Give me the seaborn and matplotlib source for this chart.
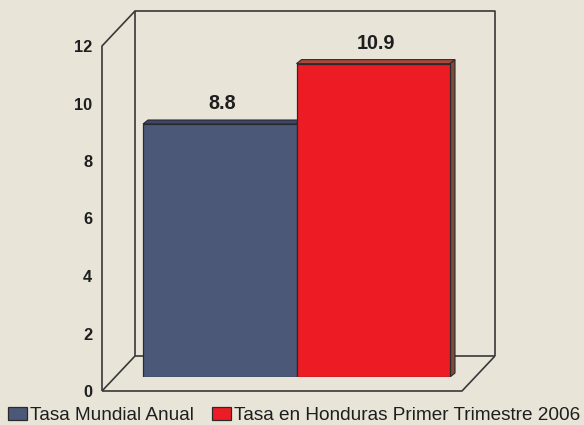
import matplotlib
matplotlib.use("Agg")
import matplotlib.pyplot as plt
from matplotlib.patches import Polygon, Rectangle
import seaborn as sns

# ---- data ----
categories = ["Tasa Mundial Anual", "Tasa en Honduras Primer Trimestre 2006"]
values = [8.8, 10.9]
value_labels = ["8.8", "10.9"]
yticks = [0, 2, 4, 6, 8, 10, 12]

# ---- style ----
BG = "#e8e5d8"
FRONT = ["#4c5878", "#ed1c24"]
TOP = ["#3d4666", "#a9483a"]
SIDE = ["#333b58", "#7e4a3c"]
EDGE = "#2a2a2a"

sns.set_style("white")
plt.rcParams["font.family"] = ["Liberation Sans", "DejaVu Sans"]

W, H = 584, 425
fig = plt.figure(figsize=(W / 100, H / 100), dpi=100, facecolor=BG)


def fbox(x0, ytop, x1, ybot):
    return [x0 / W, (H - ybot) / H, (x1 - x0) / W, (ybot - ytop) / H]


# layout (pixels): front plane of the box, depth of the box, plane of the bars
FX0, FX1, FYT, FYB = 102, 462, 46, 391
DX, DY = 33, 35
BX, BY = 13, 14          # bar plane offset from the front plane
BAR_DX, BAR_DY = 5, 4    # bar depth in pixels

# frame (decoration) in pixel coordinates
axbg = fig.add_axes([0, 0, 1, 1], zorder=0)
axbg.set_xlim(0, W)
axbg.set_ylim(H, 0)
axbg.axis("off")
lc = dict(color="#383838", lw=1.2, solid_capstyle="butt")
# back wall
axbg.plot([FX0 + DX, FX0 + DX, FX1 + DX, FX1 + DX],
          [FYB - DY, FYT - DY, FYT - DY, FYB - DY], **lc)
axbg.plot([FX0 + DX, FX1 + DX], [FYB - DY, FYB - DY], **lc)
# left wall
axbg.plot([FX0, FX0, FX0 + DX], [FYB, FYT, FYT - DY], **lc)
# floor
axbg.plot([FX0, FX1, FX1 + DX], [FYB, FYB, FYB - DY], **lc)
axbg.plot([FX0, FX0 + DX], [FYB, FYB - DY], **lc)

# front axes: carries the value scale / tick labels
axf = fig.add_axes(fbox(FX0, FYT, FX1, FYB), zorder=1)
axf.set_facecolor("none")
axf.set_ylim(0, 12)
axf.set_xlim(0, 1)
axf.set_yticks(yticks)
axf.set_yticklabels([str(t) for t in yticks], fontsize=11.8,
                    fontweight="bold", color="#1e1e1e")
axf.set_xticks([])
axf.tick_params(axis="y", length=0, pad=7)
for s in axf.spines.values():
    s.set_visible(False)

# bar axes, shifted into the box
axb = fig.add_axes(fbox(FX0 + BX, FYT - BY, FX1 + BX, FYB - BY), zorder=2)
axb.set_facecolor("none")
sns.barplot(x=categories, y=values, hue=categories, palette=FRONT,
            width=1.0, edgecolor=EDGE, linewidth=0.9, ax=axb, legend=False,
            saturation=1, zorder=3)
px_per_unit = 153.5
left = -0.5 - (143 - (FX0 + BX)) / px_per_unit
axb.set_xlim(left, left + (FX1 - FX0) / px_per_unit)
axb.set_ylim(0, 12)
axb.axis("off")

ddx = BAR_DX / px_per_unit
ddy = BAR_DY / ((FYB - FYT) / 12)
for i, p in enumerate(axb.patches):
    x0 = p.get_x()
    x1 = x0 + p.get_width()
    h = p.get_height()
    top = Polygon([[x0, h], [x1, h], [x1 + ddx, h + ddy], [x0 + ddx, h + ddy]],
                  closed=True, facecolor=TOP[i], edgecolor=EDGE, lw=0.8,
                  zorder=2)
    side = Polygon([[x1, 0], [x1 + ddx, ddy], [x1 + ddx, h + ddy], [x1, h]],
                   closed=True, facecolor=SIDE[i], edgecolor=EDGE, lw=0.8,
                   zorder=2)
    axb.add_patch(top)
    axb.add_patch(side)
    axb.annotate(value_labels[i], xy=((x0 + x1) / 2 + ddx / 2, h),
                 xytext=(0, 14.5), textcoords="offset points",
                 ha="center", va="center", fontsize=14.2, fontweight="bold",
                 color="#1e1e1e")

# legend
handles = [Rectangle((0, 0), 1, 1, facecolor=FRONT[i], edgecolor=EDGE, lw=0.9)
           for i in range(2)]
fig.legend(handles, categories, loc="lower left",
           bbox_to_anchor=(6 / W, -1 / H), ncol=2, frameon=False,
           fontsize=13.7, handlelength=1.0, handleheight=0.7,
           handletextpad=0.15, columnspacing=0.95, borderpad=0.1,
           borderaxespad=0.0, labelcolor="#1e1e1e")

fig.savefig("out.png", dpi=100, facecolor=BG)
